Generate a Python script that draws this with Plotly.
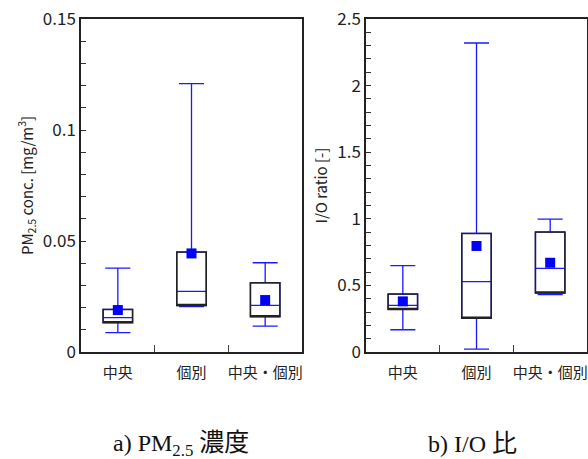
import plotly.graph_objects as go

categories = ["中央", "個別", "中央・個別"]

# a) PM2.5 concentration [mg/m3]
pm_low = [0.0087, 0.0204, 0.0117]
pm_q1 = [0.0132, 0.0209, 0.0159]
pm_med = [0.0155, 0.0273, 0.0210]
pm_q3 = [0.0192, 0.0450, 0.0312]
pm_high = [0.0378, 0.1209, 0.0402]
pm_mean = [0.0189, 0.0444, 0.0234]

# b) I/O ratio [-]
io_low = [0.167, 0.022, 0.430]
io_q1 = [0.320, 0.253, 0.443]
io_med = [0.350, 0.528, 0.628]
io_q3 = [0.435, 0.890, 0.900]
io_high = [0.648, 2.320, 0.998]
io_mean = [0.380, 0.796, 0.670]

FONT = "Noto Sans CJK JP, Noto Sans, sans-serif"
BLUE = "#1a1aff"

fig = go.Figure()

def add_panel(xa, ya, low, q1, med, q3, high, mean):
    # whiskers + median (blue)
    fig.add_trace(go.Box(
        x=categories, q1=q1, median=med, q3=q3, lowerfence=low, upperfence=high,
        xaxis=xa, yaxis=ya, width=0.4, whiskerwidth=0.85,
        line=dict(color=BLUE, width=1.3), fillcolor="rgba(0,0,0,0)",
        boxpoints=False, showlegend=False, hoverinfo="skip"))
    # box outline (black)
    fig.add_trace(go.Box(
        x=categories, q1=q1, median=q1, q3=q3, lowerfence=q1, upperfence=q3,
        xaxis=xa, yaxis=ya, width=0.4, whiskerwidth=0,
        line=dict(color="#222222", width=1.5), fillcolor="rgba(0,0,0,0)",
        boxpoints=False, showlegend=False, hoverinfo="skip"))
    # mean markers
    fig.add_trace(go.Scatter(
        x=categories, y=mean, xaxis=xa, yaxis=ya, mode="markers",
        marker=dict(symbol="square", size=10, color="#0000ff"),
        showlegend=False, hoverinfo="skip"))

add_panel("x", "y", pm_low, pm_q1, pm_med, pm_q3, pm_high, pm_mean)
add_panel("x2", "y2", io_low, io_q1, io_med, io_q3, io_high, io_mean)

W, H = 588, 459
ydom = [(H - 352) / H, (H - 19) / H]

xcommon = dict(
    type="category", categoryorder="array", categoryarray=categories,
    range=[-0.5, 2.5], showline=True, linecolor="#222222", linewidth=1.5,
    mirror=True, ticks="inside", ticklen=7, tickcolor="#444444", tickwidth=1.2,
    tickson="boundaries", showgrid=False, zeroline=False, tickangle=0,
    automargin=False, ticklabelstandoff=6,
    tickfont=dict(family=FONT, size=15, color="#222222"))
ycommon = dict(
    showline=True, linecolor="#222222", linewidth=1.5, mirror=True,
    ticks="inside", ticklen=5, tickcolor="#333333", showgrid=False,
    zeroline=False, automargin=False,
    tickfont=dict(family=FONT, size=17, color="#222222"))

CJK = '<span style="font-family:Noto Sans CJK JP;font-size:25px">{}</span>'

fig.update_layout(
    width=W, height=H, margin=dict(l=0, r=0, t=0, b=0, autoexpand=False),
    paper_bgcolor="white", plot_bgcolor="white",
    xaxis=dict(domain=[81 / W, 302 / W], anchor="y", **xcommon),
    xaxis2=dict(domain=[366 / W, 587 / W], anchor="y2", **xcommon),
    yaxis=dict(domain=ydom, anchor="x", range=[0, 0.15],
               tickvals=[0, 0.05, 0.1, 0.15], ticktext=["0", "0.05", "0.1", "0.15"],
               minor=dict(dtick=0.01, ticks="inside", ticklen=5, tickcolor="#333333"),
               title=dict(text="PM<sub>2.5</sub> conc. [mg/m<sup>3</sup>]",
                          font=dict(family=FONT, size=15, color="#222222"), standoff=6),
               **ycommon),
    yaxis2=dict(domain=ydom, anchor="x2", range=[0, 2.5],
                tickvals=[0, 0.5, 1, 1.5, 2, 2.5], ticktext=["0", "0.5", "1", "1.5", "2", "2.5"],
                minor=dict(dtick=0.1, ticks="inside", ticklen=5, tickcolor="#333333"),
                title=dict(text="I/O ratio [-]",
                           font=dict(family=FONT, size=15, color="#222222"), standoff=6),
                **ycommon),
    annotations=[
        dict(text="a) PM<sub>2.5</sub> " + CJK.format("濃度"), xref="paper", yref="paper",
             x=181 / W, y=(H - 441) / H, showarrow=False, xanchor="center", yanchor="middle",
             font=dict(family="Liberation Serif, serif", size=24, color="#111111")),
        dict(text="b) I/O " + CJK.format("比"), xref="paper", yref="paper",
             x=473 / W, y=(H - 441) / H, showarrow=False, xanchor="center", yanchor="middle",
             font=dict(family="Liberation Serif, serif", size=24, color="#111111")),
    ],
)

fig.write_html("out.html", config={"displayModeBar": False},
               post_script="document.body.style.margin='0';document.body.style.overflow='hidden';")
